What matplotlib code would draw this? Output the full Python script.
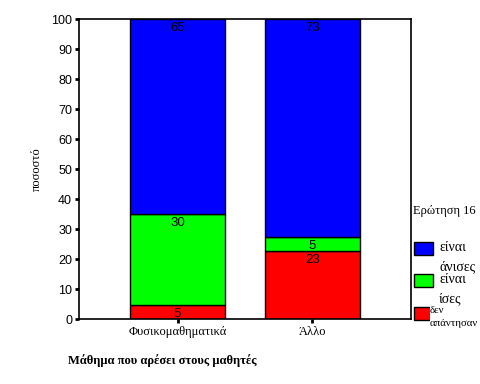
import matplotlib.pyplot as plt
from matplotlib.patches import Rectangle

categories = ['Φυσικομαθηματικά', 'Άλλο']
series_names = ['δεν\nαπάντησαν', 'είναι\nίσες', 'είναι\nάνισες']
red_vals = [4.6, 22.7]
green_vals = [30.3, 4.6]
blue_vals = [65.1, 72.7]
colors = ['#ff0000', '#00ff00', '#0000ff']
yticks = [0, 10, 20, 30, 40, 50, 60, 70, 80, 90, 100]

fig = plt.figure(figsize=(4.8, 3.84), dpi=100)
ax = fig.add_axes([79 / 480, 65 / 384, 332 / 480, 300 / 384])

x = list(range(len(categories)))
bottoms = [0, 0]
for vals, col in zip([red_vals, green_vals, blue_vals], colors):
    ax.bar(x, vals, bottom=bottoms, width=0.71, color=col, edgecolor='black', linewidth=1.0)
    for xi, b, v in zip(x, bottoms, vals):
        # value label just under the top of each segment
        ax.annotate('%d' % round(v), (xi, b + v), xytext=(0, -2), textcoords='offset points',
                    ha='center', va='top', fontsize=9.5, family='Liberation Sans')
    bottoms = [b + v for b, v in zip(bottoms, vals)]

ax.set_xlim(-0.73, 1.73)
ax.set_ylim(0, 100)
ax.set_yticks(yticks)
ax.set_yticklabels([str(t) for t in yticks], family='Liberation Sans', fontsize=9)
ax.set_xticks(x)
ax.set_xticklabels(categories, family='Liberation Serif', fontsize=9)
ax.tick_params(axis='both', direction='out', length=3, width=2, pad=2)
for s in ax.spines.values():
    s.set_linewidth(1.2)

ax.set_ylabel('ποσοστό', family='Liberation Serif', fontsize=9, labelpad=6)
fig.text(68 / 480, 1 - 361 / 384, 'Μάθημα που αρέσει στους μαθητές', family='Liberation Serif',
         fontsize=9, fontweight='bold', va='center', ha='left')

# legend (drawn by hand to follow the original layout)
fig.text(413 / 480, 1 - 211 / 384, 'Ερώτηση 16', family='Liberation Serif', fontsize=9, va='center')
leg_tops = [307, 274, 242]
text_x = [430, 439, 439]
text_top = [306, 273, 241]
text_size = [7.8, 10, 10]
for name, col, top, tx, tt, fs in zip(series_names, colors, leg_tops, text_x, text_top, text_size):
    fig.patches.append(Rectangle((414 / 480, 1 - (top + 13) / 384), 19 / 480, 13 / 384,
                                 facecolor=col, edgecolor='black', linewidth=1.0,
                                 transform=fig.transFigure, figure=fig, zorder=1))
    t = fig.text(tx / 480, 1 - tt / 384, name, family='Liberation Serif', fontsize=fs,
                 va='top', ha='left', linespacing=1.6, zorder=5)
    if tx < 433:
        t.set_bbox(dict(facecolor='white', edgecolor='none', pad=0))

fig.savefig('out.png', dpi=100)
